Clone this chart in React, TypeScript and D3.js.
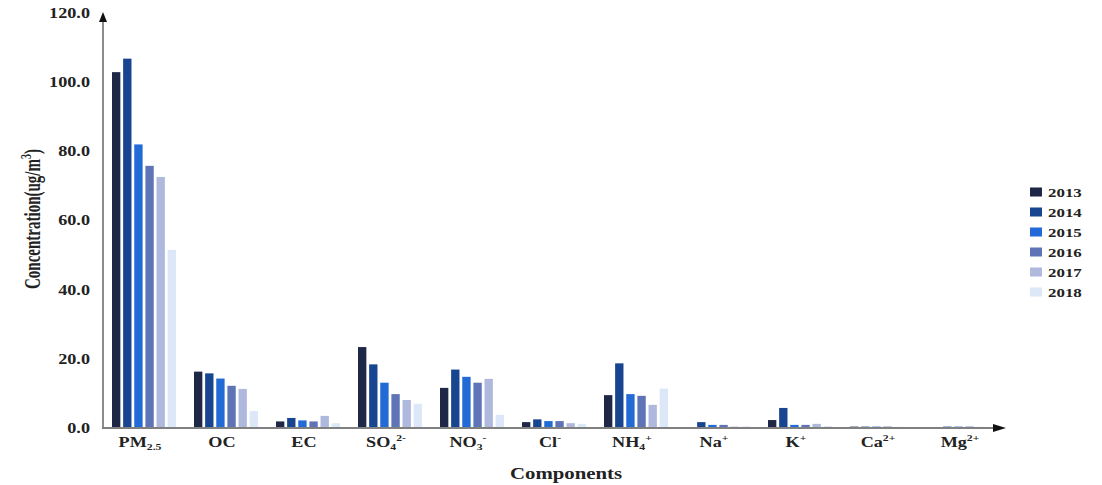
import React from "react";
import * as d3 from "d3";

const categories = ["PM2.5", "OC", "EC", "SO4", "NO3", "Cl", "NH4", "Na", "K", "Ca", "Mg"];
const categoryLabels: { base: string; sub?: string; sup?: string }[] = [
  { base: "PM", sub: "2.5" },
  { base: "OC" },
  { base: "EC" },
  { base: "SO", sub: "4", sup: "2-" },
  { base: "NO", sub: "3", sup: "-" },
  { base: "Cl", sup: "-" },
  { base: "NH", sub: "4", sup: "+" },
  { base: "Na", sup: "+" },
  { base: "K", sup: "+" },
  { base: "Ca", sup: "2+" },
  { base: "Mg", sup: "2+" },
];
const years = ["2013", "2014", "2015", "2016", "2017", "2018"];
const v2013 = [102.9, 16.3, 1.9, 23.4, 11.6, 1.7, 9.5, 0.2, 2.3, 0.4, 0.2];
const v2014 = [106.8, 15.8, 2.9, 18.4, 16.9, 2.5, 18.7, 1.7, 5.8, 0.4, 0.4];
const v2015 = [82.0, 14.3, 2.2, 13.1, 14.8, 2.0, 9.8, 0.9, 0.9, 0.4, 0.4];
const v2016 = [75.8, 12.2, 1.9, 9.8, 13.1, 2.0, 9.3, 0.9, 0.9, 0.4, 0.4];
const v2017 = [72.6, 11.3, 3.5, 8.1, 14.2, 1.4, 6.7, 0.4, 1.2, 0.3, 0.3];
const v2018 = [51.5, 4.9, 1.4, 7.0, 3.8, 1.2, 11.4, 0.5, 0.6, 0.3, 0.3];
const seriesValues = [v2013, v2014, v2015, v2016, v2017, v2018];
const yTicks = [0, 20, 40, 60, 80, 100, 120];
const colors = ["#1e2846", "#174590", "#226ad6", "#5f74b7", "#aeb9dd", "#dce8f8"];

const FONT = "'Liberation Serif', 'Times New Roman', serif";
const SX = 1.3;

export default function App() {
  const W = 1102, H = 485;
  const x0 = d3.scaleBand<string>().domain(categories).range([103, 1005]).paddingInner(0).paddingOuter(0);
  const x1 = d3.scaleBand<string>().domain(years).range([9, 73]).paddingInner(0.25).paddingOuter(0);
  const y = d3.scaleLinear().domain([0, 120]).range([428, 13]);
  const axisColor = "#808080";

  return (
    <svg width={W} height={H} style={{ position: "absolute", left: 0, top: 0, background: "#fff" }}>
      {/* bars */}
      {categories.map((c, ci) => (
        <g key={c} transform={`translate(${x0(c)},0)`}>
          {years.map((yr, yi) => {
            const v = seriesValues[yi][ci];
            return (
              <rect key={yr} x={x1(yr)} y={y(v)} width={x1.bandwidth()} height={y(0) - y(v)} fill={colors[yi]} />
            );
          })}
        </g>
      ))}
      {/* axes */}
      <line x1={103} y1={y(0)} x2={103} y2={y(120) + 6} stroke={axisColor} strokeWidth={1.8} />
      <path d={`M103,${y(120) - 1} L99,${y(120) + 9} L107,${y(120) + 9} Z`} fill="#111" />
      <line x1={102} y1={y(0)} x2={996} y2={y(0)} stroke={axisColor} strokeWidth={1.8} />
      <path d={`M1006,${y(0)} L993,${y(0) - 4} L993,${y(0) + 4} Z`} fill="#111" />
      {/* y tick labels */}
      {yTicks.map((t) => (
        <text key={t} transform={`translate(90,${y(t)}) scale(${SX},1)`} textAnchor="end" dy="0.35em"
          fontFamily={FONT} fontWeight="bold" fontSize={14} fill="#222">
          {d3.format(".1f")(t)}
        </text>
      ))}
      {/* x labels */}
      {categories.map((c, ci) => {
        const lab = categoryLabels[ci];
        const cx = (x0(c) as number) + x0.bandwidth() / 2 - 4;
        return (
          <text key={c} transform={`translate(${cx},447) scale(${SX},1)`} textAnchor="middle"
            fontFamily={FONT} fontWeight="bold" fontSize={14} fill="#222">
            {lab.base}
            {lab.sub && <tspan fontSize={9} dy={3}>{lab.sub}</tspan>}
            {lab.sup && <tspan fontSize={9} dy={lab.sub ? -9 : -6}>{lab.sup}</tspan>}
          </text>
        );
      })}
      {/* axis titles */}
      <text transform={`translate(566,479) scale(${SX},1)`} textAnchor="middle" fontFamily={FONT}
        fontWeight="bold" fontSize={16} fill="#222">Components</text>
      <text transform={`translate(40,219) rotate(-90) scale(1,1.5)`} textAnchor="middle" fontFamily={FONT}
        fontWeight="bold" fontSize={15} fill="#222">
        Concentration(ug/m<tspan fontSize={10} dy={-6}>3</tspan><tspan dy={6}>)</tspan>
      </text>
      {/* legend */}
      {years.map((yr, yi) => (
        <g key={yr} transform={`translate(1030,${192 + yi * 20})`}>
          <rect x={0} y={-4.5} width={12} height={9} fill={colors[yi]} />
          <text transform={`translate(18,0) scale(${SX},1)`} dy="0.35em" fontFamily={FONT}
            fontWeight="bold" fontSize={13} fill="#222">{yr}</text>
        </g>
      ))}
    </svg>
  );
}
